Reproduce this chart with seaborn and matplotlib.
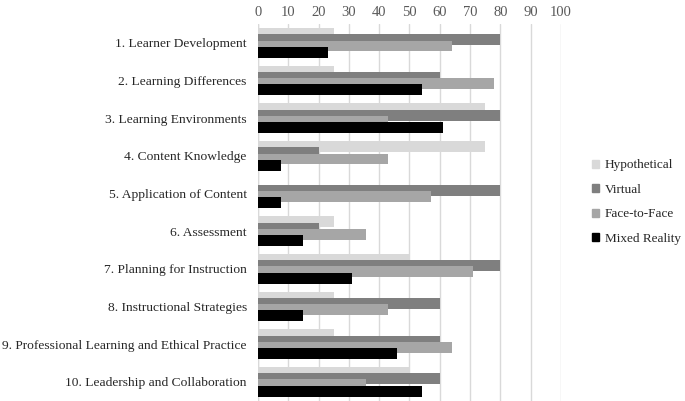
import numpy as np
import pandas as pd
import matplotlib
matplotlib.use("Agg")
import matplotlib.pyplot as plt
import seaborn as sns

# categories and series values (percent)
categories = ["1. Learner Development", "2. Learning Differences", "3. Learning Environments",
              "4. Content Knowledge", "5. Application of Content", "6. Assessment",
              "7. Planning for Instruction", "8. Instructional Strategies",
              "9. Professional Learning and Ethical Practice", "10. Leadership and Collaboration"]
series = ["Hypothetical", "Virtual", "Face-to-Face", "Mixed Reality"]
hypothetical = [25, 25, 75, 75, 0, 25, 50, 25, 25, 50]
virtual = [80, 60, 80, 20, 80, 20, 80, 60, 60, 60]
face_to_face = [64, 78, 43, 43, 57, 35.5, 71, 43, 64, 35.5]
mixed_reality = [23, 54, 61, 7.5, 7.5, 15, 31, 15, 46, 54]
x_ticks = list(range(0, 101, 10))

colors = ["#d9d9d9", "#7f7f7f", "#a6a6a6", "#000000"]

df = pd.DataFrame({
    "category": categories * 4,
    "value": hypothetical + virtual + face_to_face + mixed_reality,
    "series": [s for s in series for _ in categories],
})

sns.set_style("white")
plt.rcParams["font.family"] = ["Liberation Serif", "DejaVu Serif"]

fig = plt.figure(figsize=(6.85, 4.01), dpi=100)
ax = fig.add_axes([0.3766, 0.001, 0.4424, 0.939])

# overlapping bars: dodge then widen each bar with a negative gap
sns.barplot(data=df, x="value", y="category", hue="series", hue_order=series,
            palette=colors, orient="h", width=0.664, gap=-0.75, dodge=True,
            errorbar=None, ax=ax, legend=False, linewidth=0, saturation=1)

ax.set_xlim(0, 100)
ax.set_xticks(x_ticks)
ax.xaxis.tick_top()
ax.tick_params(axis="x", length=0, pad=4, labelsize=10.5, labelcolor="#595959")
ax.tick_params(axis="y", length=0, pad=8, labelsize=9.7, labelcolor="#262626")
ax.grid(axis="x", color="#d9d9d9", linewidth=1)
ax.set_axisbelow(True)
for s in ax.spines.values():
    s.set_visible(False)
ax.axvline(0, color="#d9d9d9", linewidth=1, zorder=0)
ax.set_xlabel("")
ax.set_ylabel("")

handles = [plt.Rectangle((0, 0), 1, 1, color=c) for c in colors]
fig.legend(handles, series, loc="center left", bbox_to_anchor=(0.847, 0.496),
           frameon=False, fontsize=9.5, handlelength=0.55, handleheight=0.55,
           handletextpad=0.4, labelspacing=0.95, labelcolor="#262626")

fig.savefig("out.png", dpi=100)
